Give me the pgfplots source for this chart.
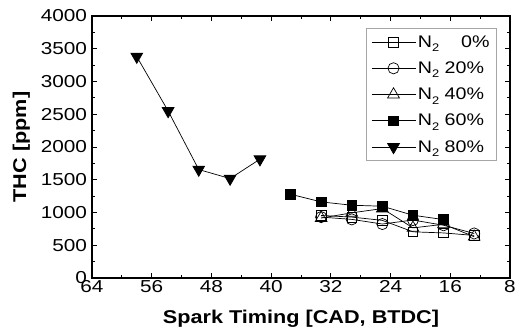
\documentclass[border=0pt]{standalone}
\usepackage{fontspec}
\setmainfont{Liberation Sans}
\usepackage{pgfplots}
\pgfplotsset{compat=1.18}
\usetikzlibrary{calc}
\newcommand{\hs}[1]{\scalebox{1.17}[1]{#1}}
\newcommand{\htick}[1]{\scalebox{1.2}[1]{#1}}
\newcommand{\Ntwo}{N\raisebox{-0.5ex}{\fontsize{11}{12}\selectfont 2}}
\begin{document}
\begin{tikzpicture}
\begin{axis}[
  name=ax,
  scale only axis,
  width=418pt, height=262pt,
  x dir=reverse,
  xmin=8, xmax=64, ymin=0, ymax=4000,
  xtick={8,16,...,64}, ytick={0,500,...,4000},
  minor x tick num=1, minor y tick num=1,
  tick align=inside,
  major tick length=5pt, minor tick length=3pt,
  axis line style={line width=1.1pt},
  every tick/.style={line width=0.8pt, black},
  /pgf/number format/assume math mode=true,
  /pgf/number format/1000 sep={},
  xticklabel={\htick{\pgfmathprintnumber{\tick}}},
  yticklabel={\htick{\pgfmathprintnumber{\tick}}},
  tick label style={font=\fontsize{17.3}{19}\selectfont},
  yticklabel style={xshift=-1.5pt},
  xticklabel style={yshift=1pt},
  xlabel={\hs{\bfseries Spark Timing [CAD, BTDC]}},
  ylabel={\hs{\bfseries THC [ppm]}},
  label style={font=\fontsize{18.5}{21}\selectfont},
  xlabel shift={10pt},
  ylabel shift={4pt},
  every axis plot/.append style={black, line width=0.7pt},
  legend style={at={(0.655,0.954)}, anchor=north west, draw=gray!70, line width=0.8pt,
     font=\fontsize{16.8}{19}\selectfont, row sep=9pt, inner sep=5pt,
     cells={anchor=west}},
  legend image code/.code={\draw[mark repeat=2,mark phase=2,#1] plot coordinates {(0pt,0pt)(22pt,0pt)(44pt,0pt)};},
]
\addplot[mark=square, mark options={fill=white}, mark size=4.8pt] coordinates {
(33.3,955)(29.2,930)(25.1,880)(21.0,705)(16.9,688)(12.8,650)};
\addlegendentry{\hs{\Ntwo\ \ \phantom{2}0\%}}
\addplot[mark=o, mark options={fill=white}, mark size=5.6pt] coordinates {
(33.3,930)(29.2,895)(25.1,824)(21.0,885)(16.9,805)(12.8,680)};
\addlegendentry{\hs{\Ntwo\ 20\%}}
\addplot[mark=triangle, mark options={fill=white}, mark size=6.8pt] coordinates {
(33.3,915)(29.2,995)(25.1,1060)(21.0,765)(16.9,820)(12.8,630)};
\addlegendentry{\hs{\Ntwo\ 40\%}}
\addplot[mark=square*, mark options={fill=black}, mark size=4.8pt] coordinates {
(37.4,1279)(33.3,1162)(29.2,1111)(25.1,1096)(21.0,958)(16.9,892)};
\addlegendentry{\hs{\Ntwo\ 60\%}}
\addplot[mark=triangle*, mark options={fill=black, rotate=180}, mark size=6.8pt] coordinates {
(58,3380)(53.8,2550)(49.7,1656)(45.5,1518)(41.5,1814)};
\addlegendentry{\hs{\Ntwo\ 80\%}}
\end{axis}
\pgfresetboundingbox
\path ($(ax.south west)+(-92pt,-53pt)$) rectangle ($(ax.north east)+(16pt,16pt)$);
\end{tikzpicture}
\end{document}
